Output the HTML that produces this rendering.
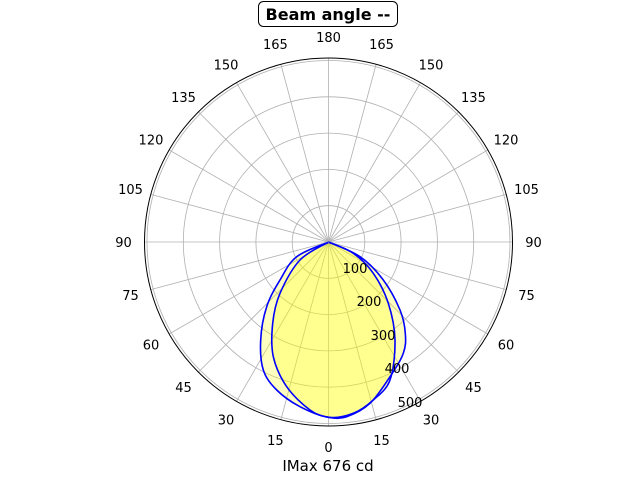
<!DOCTYPE html>
<html><head><meta charset="utf-8"><style>
html,body{margin:0;padding:0;background:#fff;}
svg{display:block;font-family:"DejaVu Sans","Liberation Sans",sans-serif;}
</style></head><body>
<svg width="640" height="480" viewBox="0 0 640 480" xmlns="http://www.w3.org/2000/svg">
<rect width="640" height="480" fill="#fff"/>
<g id="grid" stroke="#b0b0b0" stroke-width="0.8" fill="none"></g>
<g id="shapes"></g>
<circle cx="328.5" cy="242" r="184" fill="none" stroke="#000" stroke-width="1"/>
<g id="labels" font-size="13" fill="#000" text-anchor="middle"></g>
<rect x="258.5" y="1.5" width="139" height="25" rx="5" fill="#fff" stroke="#000" stroke-width="1"/>
<text x="328" y="20" font-size="16" font-weight="bold" text-anchor="middle">Beam angle --</text>
<text x="328" y="471" font-size="15" text-anchor="middle">IMax 676 cd</text>
</svg>
<script>
const cx=328.5,cy=242,ns="http://www.w3.org/2000/svg";
const g=document.getElementById('grid');
function el(t,a,p){const e=document.createElementNS(ns,t);for(const k in a)e.setAttribute(k,a[k]);p.appendChild(e);return e;}
for(let i=1;i<=5;i++)el('circle',{cx,cy,r:36.3*i},g);
for(let a=0;a<360;a+=15){const r=a*Math.PI/180;el('line',{x1:cx,y1:cy,x2:cx+184*Math.sin(r),y2:cy+184*Math.cos(r)},g);}
const L=document.getElementById('labels');
const angs=[0,15,30,45,60,75,90,105,120,135,150,165,180];
for(const a of angs){for(const s of [1,-1]){if((a==0||a==180)&&s<0)continue;const r=a*Math.PI/180;const R=205;
const t=el('text',{x:cx+s*R*Math.sin(r),y:cy+R*Math.cos(r)+5},L);t.textContent=a;}}
[[355,273,100],[369,306,200],[383,340,300],[397,373,400],[410,407,500]].forEach(([x,y,v])=>{const t=el('text',{x,y},L);t.textContent=v;});
const A=[[566,607],[470,650],[420,720],[380,800],[362,900],[370,990],[410,1050],[480,1100],[566,1132],[640,1120],[700,1080],[750,1020],[765,900],[745,790],[700,700],[640,640]];
const B=[[566,607],[480,660],[420,760],[398,850],[400,950],[440,1040],[510,1110],[566,1132],[620,1130],[690,1090],[750,1010],[790,940],[796,880],[780,810],[730,720],[660,650]];
function path(P){const p=P.map(([x,y])=>[x/3+140,y/3+40]);const n=p.length;let d='M'+p[0][0]+','+p[0][1];
for(let i=0;i<n;i++){const p0=p[(i-1+n)%n],p1=p[i],p2=p[(i+1)%n],p3=p[(i+2)%n];
const k=1/6;
const k1=(i==0)?0:k, k2=((i+1)%n==0)?0:k;
const c1=[p1[0]+(p2[0]-p0[0])*k1,p1[1]+(p2[1]-p0[1])*k1];
const c2=[p2[0]-(p3[0]-p1[0])*k2,p2[1]-(p3[1]-p1[1])*k2];
d+=' C'+c1[0].toFixed(1)+','+c1[1].toFixed(1)+' '+c2[0].toFixed(1)+','+c2[1].toFixed(1)+' '+p2[0].toFixed(1)+','+p2[1].toFixed(1);}
return d+'Z';}
const S=document.getElementById('shapes');
for(const P of [A,B])el('path',{d:path(P),fill:'#ffff00','fill-opacity':0.25,stroke:'none'},S);
for(const P of [A,B])el('path',{d:path(P),fill:'none',stroke:'#0000ff','stroke-width':1.6},S);
</script>
</body></html>
